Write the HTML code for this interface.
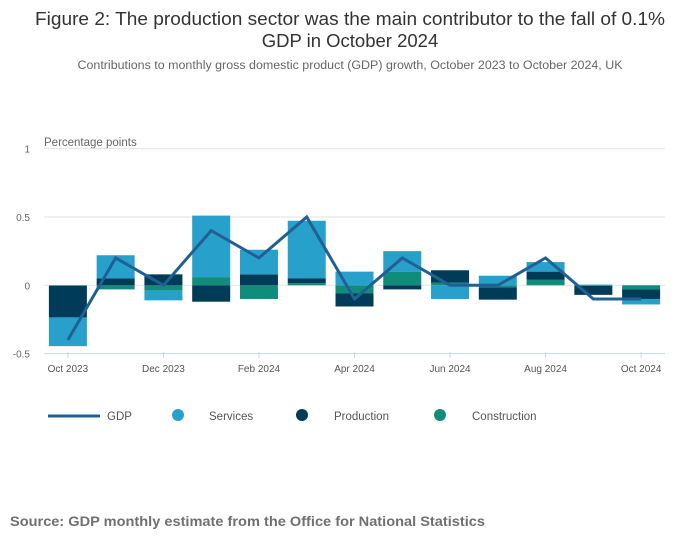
<!DOCTYPE html>
<html><head><meta charset="utf-8"><style>
body{margin:0;width:700px;height:549px;background:#fff;font-family:"Liberation Sans",sans-serif;overflow:hidden}
</style></head><body>
<svg width="700" height="549" xmlns="http://www.w3.org/2000/svg">
<text x="350" y="25" text-anchor="middle" font-size="18.5" fill="#333" textLength="630" lengthAdjust="spacingAndGlyphs">Figure 2: The production sector was the main contributor to the fall of 0.1%</text>
<text x="350" y="47" text-anchor="middle" font-size="18.5" fill="#333">GDP in October 2024</text>
<text x="350" y="69" text-anchor="middle" font-size="11.5" fill="#666" textLength="545" lengthAdjust="spacingAndGlyphs">Contributions to monthly gross domestic product (GDP) growth, October 2023 to October 2024, UK</text>
<text x="44" y="146" font-size="11.5" fill="#666">Percentage points</text>
<g id="grid"></g><g id="bars"></g><g id="line"></g><g id="xaxis"></g>
<g>
<line x1="48" y1="416" x2="100" y2="416" stroke="#206095" stroke-width="3"/>
<text x="107" y="420" font-size="11.5" fill="#555">GDP</text>
<circle cx="178" cy="415" r="6" fill="#27a0cc"/>
<text x="209" y="420" font-size="11.5" fill="#555">Services</text>
<circle cx="302" cy="415" r="6" fill="#003c57"/>
<text x="334" y="420" font-size="11.5" fill="#555">Production</text>
<circle cx="440" cy="415" r="6" fill="#118c7b"/>
<text x="472" y="420" font-size="11.5" fill="#555">Construction</text>
</g>
<text x="10" y="526" font-size="14" font-weight="bold" fill="#707070" textLength="475" lengthAdjust="spacingAndGlyphs">Source: GDP monthly estimate from the Office for National Statistics</text>
</svg>
<script>
const categories=["Oct 2023","Nov 2023","Dec 2023","Jan 2024","Feb 2024","Mar 2024","Apr 2024","May 2024","Jun 2024","Jul 2024","Aug 2024","Sep 2024","Oct 2024"];
const construction=[-0.005,-0.03,-0.04,0.06,-0.1,0.015,-0.06,0.1,0.02,-0.015,0.04,-0.005,-0.03];
const production=[-0.23,0.05,0.08,-0.12,0.08,0.037,-0.095,-0.03,0.09,-0.09,0.06,-0.065,-0.07];
const services=[-0.21,0.17,-0.07,0.45,0.18,0.42,0.1,0.15,-0.1,0.07,0.07,0.005,-0.04];
const gdp=[-0.4,0.2,0,0.4,0.2,0.5,-0.1,0.2,0,0,0.2,-0.1,-0.1];
const yTicks=[1,0.5,0,-0.5];
const yTickLabels=["1","0.5","0","-0.5"];
const xTickIdx=[0,2,4,6,8,10,12];
const NS="http://www.w3.org/2000/svg";
const x0=44,x1=665,bw=(x1-x0)/categories.length;
function xScale(i){return x0+bw*(i+0.5);}
function yScale(v){return 285.3-v*136.7;}
function mk(tag,attrs,parent){const e=document.createElementNS(NS,tag);for(const k in attrs)e.setAttribute(k,attrs[k]);parent.appendChild(e);return e;}
const grid=document.getElementById('grid');
yTicks.forEach((t,i)=>{
  const l=mk('line',{x1:x0,x2:x1,y1:yScale(t),y2:yScale(t),stroke:t===-0.5?'#c8d6e6':'#e2e2e2','stroke-width':1},grid);
  
  
  const tx=mk('text',{x:x0-14,y:yScale(t)+4,'font-size':10,fill:'#666','text-anchor':'end'},grid);
  tx.textContent=yTickLabels[i];
  
  
});
const bars=document.getElementById('bars');
const series=[["construction",construction,"#118c7b"],["production",production,"#003c57"],["services",services,"#27a0cc"]];
categories.forEach((c,i)=>{
  let pos=0,neg=0;
  series.forEach(([nm,arr,col])=>{
    const v=arr[i];let a,b;
    if(v>=0){a=pos;b=pos+v;pos=b;}else{a=neg;b=neg+v;neg=b;}
    const y1=yScale(Math.max(a,b)),y2=yScale(Math.min(a,b));
    const r=mk('rect',{x:xScale(i)-19,y:y1,width:38,height:Math.max(0,y2-y1),fill:col},bars);
    
    
  });
});
const line=document.getElementById('line');
const p=mk('polyline',{points:gdp.map((v,i)=>xScale(i)+','+yScale(v)).join(' '),fill:'none',stroke:'#206095','stroke-width':3,'stroke-linejoin':'miter'},line);


const xa=document.getElementById('xaxis');
xTickIdx.forEach(i=>{
  const t=mk('line',{x1:xScale(i),x2:xScale(i),y1:352,y2:358,stroke:'#c8d6e6'},xa);
  
  
  const tx=mk('text',{x:xScale(i),y:372,'font-size':10,fill:'#555','text-anchor':'middle'},xa);
  tx.textContent=categories[i];
  
  
});
</script>
</body></html>
